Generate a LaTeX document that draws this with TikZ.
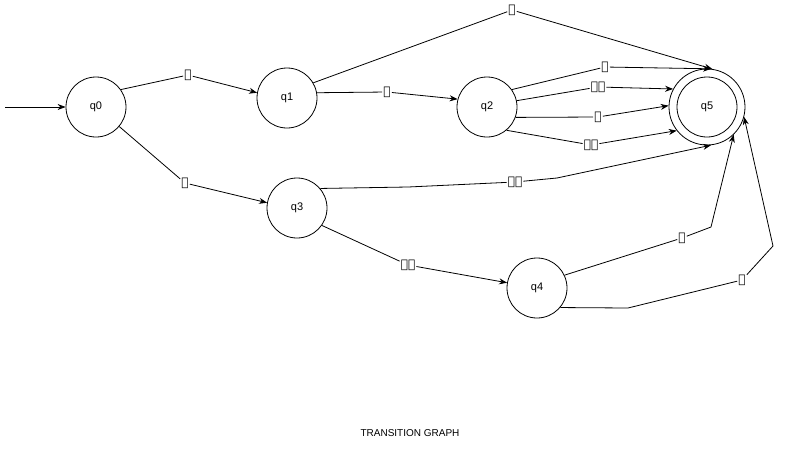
\documentclass[tikz,border=0pt]{standalone}
\usepackage{fontspec}
\setmainfont{Liberation Sans}
\IfFontExistsTF{FreeSerif.otf}
  {\newfontfamily\ethfont{FreeSerif.otf}}
  {\newfontfamily\ethfont{DejaVu Sans}}
\usetikzlibrary{arrows.meta}
\begin{document}
\begin{tikzpicture}[x=1pt,y=-1pt,
  state/.style={circle,draw,line width=0.8pt,minimum size=60pt,inner sep=0pt,font=\fontsize{11}{13}\selectfont},
  trans/.style={draw,line width=0.8pt,-{Stealth[length=8pt,width=6pt]}},
  sym/.style={fill=white,inner sep=1pt,font=\ethfont\fontsize{12}{14}\selectfont}]
\useasboundingbox (0,0) rectangle (796,448);

% states
\node[state] (q0) at (96,107) {q0};
\node[state] (q1) at (287,98) {q1};
\node[state] (q2) at (487,107) {q2};
\node[state] (q3) at (297,208) {q3};
\node[state] (q4) at (537,288) {q4};
\node[state,minimum size=76pt] (q5) at (707,107) {q5};
\draw[line width=0.8pt] (q5.center) circle (30pt);

% start arrow
\coordinate (start) at (5,107);
\draw[trans] (start) -- (q0.west);

% waypoints of bent connectors
\coordinate (b35a) at (408,187);
\coordinate (b35b) at (557,178);
\coordinate (b45a) at (711,227);
\coordinate (b45b) at (628,308);
\coordinate (b45c) at (773,246);

% transition symbols
\node[sym] (s01) at (188,75) {ኢ};
\node[sym] (s12) at (387,92) {ን};
\node[sym] (s15) at (512,10) {ነ};
\node[sym] (s25a) at (605,67) {ተ};
\node[sym] (s25b) at (598,87) {ትሙ};
\node[sym] (s25c) at (598,117) {ቲ};
\node[sym] (s25d) at (591,145) {ትን};
\node[sym] (s03) at (185,183) {ው};
\node[sym] (s35) at (515,182) {ኢቲ};
\node[sym] (s34) at (408,265) {አቶ};
\node[sym] (s45a) at (682,238) {ሙ};
\node[sym] (s45b) at (742,280) {ን};

% transitions
\draw[trans] (q0.35) -- (s01) -- (q1.170);
\draw[trans] (q1.10) -- (s12) -- (q2.165);
\draw[trans] (q1.30) -- (s15) -- (q5.82);
\draw[trans] (q2.35) -- (s25a) -- (q5.84);
\draw[trans] (q2.12) -- (s25b) -- (q5.152);
\draw[trans] (q2.-20) -- (s25c) -- (q5.178);
\draw[trans] (q2.-50) -- (s25d) -- (q5.218);
\draw[trans] (q0.-40) -- (s03) -- (q3.170);
\draw[trans] (q3.40) -- (b35a) -- (s35) -- (b35b) -- (q5.276);
\draw[trans] (q3.-35) -- (s34) -- (q4.170);
\draw[trans] (q4.25) -- (s45a) -- (b45a) -- (q5.314);
\draw[trans] (q4.-40) -- (b45b) -- (s45b) -- (b45c) -- (q5.345);

% caption
\node[font=\fontsize{10}{12}\selectfont] (title) at (410,433) {TRANSITION GRAPH};
\end{tikzpicture}
\end{document}
